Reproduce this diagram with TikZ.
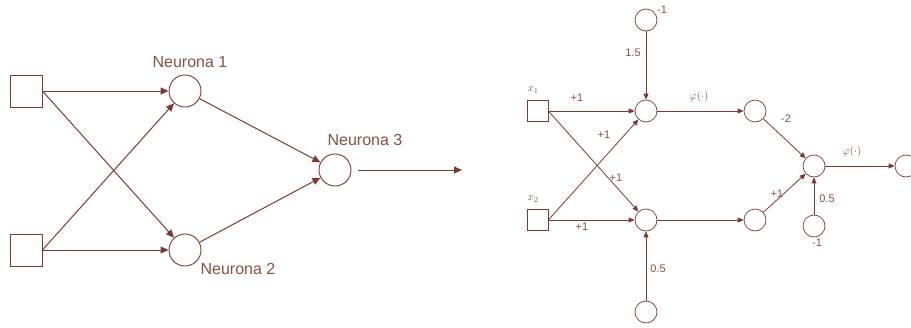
\documentclass[tikz,border=0pt]{standalone}
\usepackage{fontspec}
\setmainfont{Liberation Sans}
\usetikzlibrary{arrows.meta}
\definecolor{linea}{RGB}{122,58,52}
\definecolor{texto}{RGB}{135,80,72}
\tikzset{
  entrada/.style={draw=linea,fill=white,line width=0.9pt,minimum size=32pt,inner sep=0pt},
  neurona/.style={draw=linea,fill=white,line width=0.9pt,circle,minimum size=32pt,inner sep=0pt},
  entradita/.style={draw=linea,fill=white,line width=0.7pt,minimum size=21pt,inner sep=0pt},
  nodito/.style={draw=linea,fill=white,line width=0.7pt,circle,minimum size=22pt,inner sep=0pt},
  flecha/.style={draw=linea,line width=1pt,-{Triangle[length=8pt,width=7pt]}},
  flechita/.style={draw=linea,line width=0.8pt,-{Triangle[length=6pt,width=5pt]}},
  rotulo/.style={text=texto,font=\fontsize{16}{18}\selectfont,inner sep=0pt},
  peso/.style={text=texto,font=\fontsize{11}{13}\selectfont,inner sep=0pt}
}
\begin{document}
\begin{tikzpicture}[x=1pt,y=-1pt]
\useasboundingbox (0,0) rectangle (911,327);
% red de la izquierda
\node[entrada] (e1) at (26,91) {};
\node[entrada] (e2) at (26,250) {};
\node[neurona] (n1) at (185,91) {};
\node[neurona] (n2) at (185,250) {};
\node[neurona] (n3) at (335,170) {};
\coordinate (sal) at (462,170);
\draw[flecha] (e1.east) -- (n1);
\draw[flecha] (e1.east) -- (n2);
\draw[flecha] (e2.east) -- (n1);
\draw[flecha] (e2.east) -- (n2);
\draw[flecha] (n1) -- (n3);
\draw[flecha] (n2) -- (n3);
\draw[flecha,shorten <=7pt] (n3.east) -- (sal);
\node[rotulo] (r1) at (190,62) {Neurona 1};
\node[rotulo] (r2) at (238,269) {Neurona 2};
\node[rotulo] (r3) at (365,140) {Neurona 3};
% red de la derecha
\node[entradita] (x1) at (537.5,111) {};
\node[entradita] (x2) at (537.5,220) {};
\node[nodito] (h1) at (646,111) {};
\node[nodito] (h2) at (646,220) {};
\node[nodito] (b1) at (646,20) {};
\node[nodito] (b2) at (646,312) {};
\node[nodito] (a1) at (755,111) {};
\node[nodito] (a2) at (755,220) {};
\node[nodito] (o) at (814,166) {};
\node[nodito] (b3) at (814,226) {};
\node[nodito] (y) at (906,166) {};
\draw[flechita] (x1.east) -- (h1);
\draw[flechita] (x1.east) -- (h2);
\draw[flechita] (x2.east) -- (h1);
\draw[flechita] (x2.east) -- (h2);
\draw[flechita] (b1) -- (h1);
\draw[flechita] (b2) -- (h2);
\draw[flechita] (h1) -- (a1);
\draw[flechita] (h2) -- (a2);
\draw[flechita] (a1) -- (o);
\draw[flechita] (a2) -- (o);
\draw[flechita] (b3) -- (o);
\draw[flechita] (o) -- (y);
\foreach \px/\py/\t [count=\i] in {533/90/{$x_1$},533/199/{$x_2$},662/10/{-1},633/53/{1.5},658/269/{0.5},
  577/98/{+1},604/135/{+1},616/178/{+1},582/227/{+1},699/97/{$\varphi(\cdot)$},
  786/119/{-2},777/194/{+1},852/152/{$\varphi(\cdot)$},827/199/{0.5},817/243/{-1}} {
  \node[peso] (w\i) at (\px,\py) {\t};
}
\end{tikzpicture}
\end{document}
